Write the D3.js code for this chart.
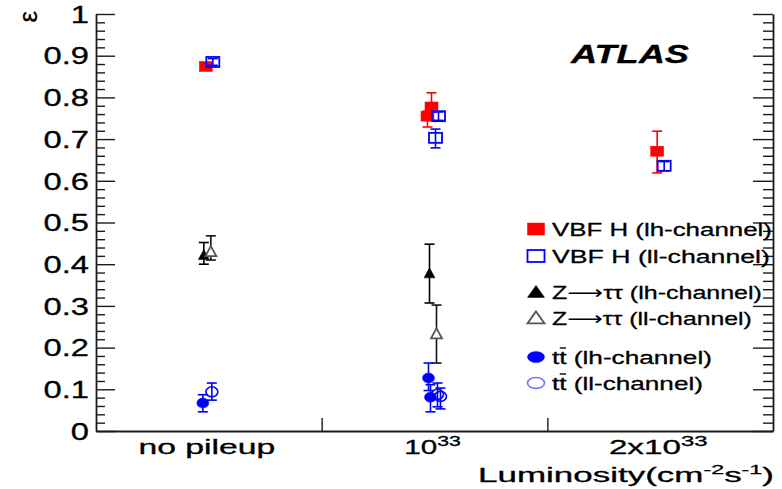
<!DOCTYPE html>
<html>
<head>
<meta charset="utf-8">
<script src="https://cdn.jsdelivr.net/npm/d3@7"></script>
<style>
  body { margin: 0; background: #fff; }
  text { font-family: "Liberation Sans", Arial, Helvetica, sans-serif; fill: #000; stroke: #000; stroke-width: 0.3; }
  .arrow { font-family: "DejaVu Sans", sans-serif; }
</style>
</head>
<body>
<svg id="chart" width="782" height="489"></svg>
<script>
// Luminosity scenarios on the x axis
const categories = ["no pileup", "1e33", "2e33"];
const yMajorTicks = [0, 0.1, 0.2, 0.3, 0.4, 0.5, 0.6, 0.7, 0.8, 0.9, 1];

// Efficiencies: v = value, up/dn = error bar extent, run = sample index within a scenario
const vbfLh = [
  { cat: 0, run: 0, v: 0.874, up: 0.008, dn: 0.008 },
  { cat: 1, run: 0, v: 0.777, up: 0.034, dn: 0.012 },
  { cat: 1, run: 1, v: 0.755, up: 0.012, dn: 0.026 },
  { cat: 2, run: 0, v: 0.671, up: 0.048, dn: 0.052 }
];
const vbfLl = [
  { cat: 0, run: 0, v: 0.885, up: 0.008, dn: 0.008 },
  { cat: 1, run: 0, v: 0.755, up: 0.010, dn: 0.010 },
  { cat: 1, run: 1, v: 0.703, up: 0.021, dn: 0.024 },
  { cat: 2, run: 0, v: 0.636, up: 0.010, dn: 0.012 }
];
const zLh = [
  { cat: 0, run: 0, v: 0.422, up: 0.030, dn: 0.022 },
  { cat: 1, run: 0, v: 0.378, up: 0.070, dn: 0.071 }
];
const zLl = [
  { cat: 0, run: 0, v: 0.430, up: 0.038, dn: 0.020 },
  { cat: 1, run: 0, v: 0.233, up: 0.069, dn: 0.070 }
];
const ttLh = [
  { cat: 0, run: 0, v: 0.067, up: 0.020, dn: 0.021 },
  { cat: 1, run: 0, v: 0.127, up: 0.036, dn: 0.030 },
  { cat: 1, run: 1, v: 0.081, up: 0.030, dn: 0.035 }
];
const ttLl = [
  { cat: 0, run: 0, v: 0.094, up: 0.021, dn: 0.020 },
  { cat: 1, run: 0, v: 0.088, up: 0.027, dn: 0.030 },
  { cat: 1, run: 1, v: 0.083, up: 0.020, dn: 0.030 }
];

const svg = d3.select("#chart");
const frame = { left: 96, right: 773, top: 14, bottom: 431 };

const y = d3.scaleLinear().domain([0, 1]).range([frame.bottom, frame.top]);
const x = d3.scaleBand().domain(d3.range(categories.length)).range([frame.left, frame.right]).padding(0);
const xEdge = d3.scaleLinear().domain([0, categories.length]).range([frame.left, frame.right]);

// Stretch a text element horizontally to a given width around an anchor x
function fit(sel, width, ax) {
  const bw = sel.node().getBBox().width;
  const k = width / bw;
  sel.attr("transform", `translate(${ax},0) scale(${k},1) translate(${-ax},0)`);
}

const axisColor = "#1a1a1a";
const minorTicks = d3.range(0, 51).map(i => i / 50).filter((d, i) => i % 5 !== 0);

// Left axis: major + minor ticks pointing inward
const gLeft = svg.append("g").attr("transform", `translate(${frame.left},0)`);
gLeft.call(d3.axisLeft(y).tickValues(yMajorTicks).tickSizeInner(-19).tickSizeOuter(0)
  .tickPadding(7).tickFormat(d => String(+d.toFixed(1))));
gLeft.append("g").call(d3.axisLeft(y).tickValues(minorTicks).tickSizeInner(-9).tickSizeOuter(0).tickFormat(""))
  .select(".domain").remove();
gLeft.selectAll("line").attr("stroke", axisColor).attr("stroke-width", 1.4);
gLeft.selectAll(".domain").attr("stroke", axisColor).attr("stroke-width", 1.8);
gLeft.selectAll(".tick text").attr("font-size", 23).attr("fill", "#111")
  .each(function () {
    const t = d3.select(this);
    t.attr("x", -7).attr("dy", "0.36em");
    t.attr("transform", "translate(-7,0) scale(1.42,1) translate(7,0)");
  });

// Right axis
const gRight = svg.append("g").attr("transform", `translate(${frame.right},0)`);
gRight.call(d3.axisRight(y).tickValues(yMajorTicks).tickSizeInner(-20).tickSizeOuter(0).tickFormat(""));
gRight.append("g").call(d3.axisRight(y).tickValues(minorTicks).tickSizeInner(-10).tickSizeOuter(0).tickFormat(""))
  .select(".domain").remove();
gRight.selectAll("line").attr("stroke", axisColor).attr("stroke-width", 1.4);
gRight.selectAll(".domain").attr("stroke", axisColor).attr("stroke-width", 1.8);

// Bottom axis: ticks at the scenario boundaries
const gBottom = svg.append("g").attr("transform", `translate(0,${frame.bottom})`);
gBottom.call(d3.axisBottom(xEdge).tickValues([1, 2]).tickSizeInner(-13).tickSizeOuter(0).tickFormat(""));
gBottom.selectAll("line").attr("stroke", axisColor).attr("stroke-width", 1.4);
gBottom.selectAll(".domain").attr("stroke", axisColor).attr("stroke-width", 1.8);

// Category labels
const catLabel = [
  { base: "no pileup", sup: null, width: 137 },
  { base: "10", sup: "33", width: 57 },
  { base: "2x10", sup: "33", width: 99 }
];
categories.forEach((c, i) => {
  const cx = x(i) + x.bandwidth() / 2 - 2;
  const lab = catLabel[i];
  const t = svg.append("text").attr("x", cx).attr("y", 454).attr("font-size", 19.5)
    .attr("text-anchor", "middle");
  t.append("tspan").text(lab.base);
  if (lab.sup) t.append("tspan").attr("dy", -8).attr("font-size", 14).text(lab.sup);
  fit(t, lab.width, cx);
});

// Axis titles
const xt = svg.append("text").attr("x", 774).attr("y", 482).attr("font-size", 19.5).attr("text-anchor", "end");
xt.append("tspan").text("Luminosity(cm");
xt.append("tspan").attr("dy", -8).attr("font-size", 13).text("-2");
xt.append("tspan").attr("dy", 8).text("s");
xt.append("tspan").attr("dy", -8).attr("font-size", 13).text("-1");
xt.append("tspan").attr("dy", 8).text(")");
fit(xt, 296, 774);

svg.append("text").attr("transform", "translate(37,11) rotate(-90)")
  .attr("text-anchor", "end").attr("font-size", 26).attr("stroke-width", 0).text("ε");

// Experiment label
const atlas = svg.append("text").attr("x", 630).attr("y", 63).attr("font-size", 25)
  .attr("font-weight", "bold").attr("font-style", "italic").attr("text-anchor", "middle").text("ATLAS");
fit(atlas, 120, 630);

// Series styling
const series = [
  { key: "vbfLh", data: vbfLh, shape: "square", fill: "#ff0000", stroke: "#ff0000", err: "#ff0000", dx: [-3, -7],
    label: "VBF H (lh-channel)", kind: "plain", lw: 220 },
  { key: "vbfLl", data: vbfLl, shape: "square", fill: "none", stroke: "#0000ff", err: "#0000ff", dx: [4, 1],
    label: "VBF H (ll-channel)", kind: "plain", lw: 218 },
  { key: "zLh", data: zLh, shape: "triangle", fill: "#000", stroke: "#000", err: "#000", dx: [-5],
    label: "(lh-channel)", kind: "z", lw: 210 },
  { key: "zLl", data: zLl, shape: "triangle", fill: "none", stroke: "#555", err: "#111", dx: [2],
    label: "(ll-channel)", kind: "z", lw: 200 },
  { key: "ttLh", data: ttLh, shape: "circle", fill: "#0000ff", stroke: "#0000ff", err: "#0000ff", dx: [-6, -4],
    label: "(lh-channel)", kind: "tt", lw: 160 },
  { key: "ttLl", data: ttLl, shape: "circle", fill: "none", stroke: "#0000ff", err: "#0000ff", dx: [3, 6],
    label: "(ll-channel)", kind: "tt", lw: 151, legendStroke: "#6f6fff" }
];

function drawMarker(g, shape, cx, cy, w, h, fill, stroke) {
  const open = fill === "none";
  if (shape === "square") {
    g.append("rect").attr("x", cx - w / 2).attr("y", cy - h / 2).attr("width", w).attr("height", h)
      .attr("fill", open ? "none" : fill).attr("stroke", stroke).attr("stroke-width", open ? 1.8 : 0.5);
  } else if (shape === "triangle") {
    const p = d3.path();
    p.moveTo(cx, cy - h * 0.55);
    p.lineTo(cx + w / 2, cy + h * 0.45);
    p.lineTo(cx - w / 2, cy + h * 0.45);
    p.closePath();
    g.append("path").attr("d", p.toString())
      .attr("fill", open ? "#fff" : fill).attr("stroke", stroke).attr("stroke-width", open ? 1.8 : 0.5)
      .attr("stroke-linejoin", "miter");
  } else {
    g.append("ellipse").attr("cx", cx).attr("cy", cy).attr("rx", w / 2).attr("ry", h / 2)
      .attr("fill", open ? "none" : fill).attr("stroke", stroke).attr("stroke-width", open ? 1.6 : 0.5);
  }
}

const markerSize = { square: [13, 10], triangle: [11, 10], circle: [12, 10] };

const gData = svg.append("g");
series.forEach(s => {
  const g = gData.append("g").attr("class", s.key);
  s.data.forEach(d => {
    const cx = x(d.cat) + x.bandwidth() / 2 + s.dx[d.run];
    const cy = y(d.v);
    const yTop = y(d.v + d.up), yBot = y(d.v - d.dn);
    const eb = g.append("g").attr("stroke", s.err).attr("stroke-width", 1.6);
    eb.append("line").attr("x1", cx).attr("x2", cx).attr("y1", yTop).attr("y2", yBot);
    eb.append("line").attr("x1", cx - 5).attr("x2", cx + 5).attr("y1", yTop).attr("y2", yTop);
    eb.append("line").attr("x1", cx - 5).attr("x2", cx + 5).attr("y1", yBot).attr("y2", yBot);
    const [w, h] = markerSize[s.shape];
    drawMarker(g, s.shape, cx, cy, w, h, s.fill, s.stroke);
  });
});

// Legend
const legendRows = [229, 256, 292, 318, 357, 383];
const gLeg = svg.append("g");
const legendSize = { square: [17, 12], triangle: [17, 12], circle: [17, 11] };
series.forEach((s, i) => {
  const ly = legendRows[i];
  const [w, h] = legendSize[s.shape];
  drawMarker(gLeg, s.shape, 536, ly, w, h, s.fill, s.legendStroke || s.stroke);
  const t = gLeg.append("text").attr("x", 552).attr("y", ly).attr("dy", "0.36em").attr("font-size", 19);
  let barT = null;
  if (s.kind === "tt") {
    t.append("tspan").text("t");
    barT = t.append("tspan").text("t");
    t.append("tspan").text(" " + s.label);
  } else if (s.kind === "z") {
    t.append("tspan").text("Z");
    t.append("tspan").attr("class", "arrow").attr("stroke-width", 0).text("⟶");
    t.append("tspan").text("ττ " + s.label);
  } else {
    t.text(s.label);
  }
  fit(t, s.lw, 552);
  if (barT) {
    // bar over the antiquark "t", placed from the glyph's own extent
    const ext = t.node().getExtentOfChar(1);
    const k = s.lw / t.node().getBBox().width;
    const x0 = 552 + (ext.x - 552) * k, x1 = 552 + (ext.x + ext.width - 552) * k;
    gLeg.append("line").attr("x1", x0 + 0.5).attr("x2", x1 - 0.5)
      .attr("y1", ly - 9).attr("y2", ly - 9).attr("stroke", "#000").attr("stroke-width", 1.4);
  }
});
</script>
</body>
</html>
